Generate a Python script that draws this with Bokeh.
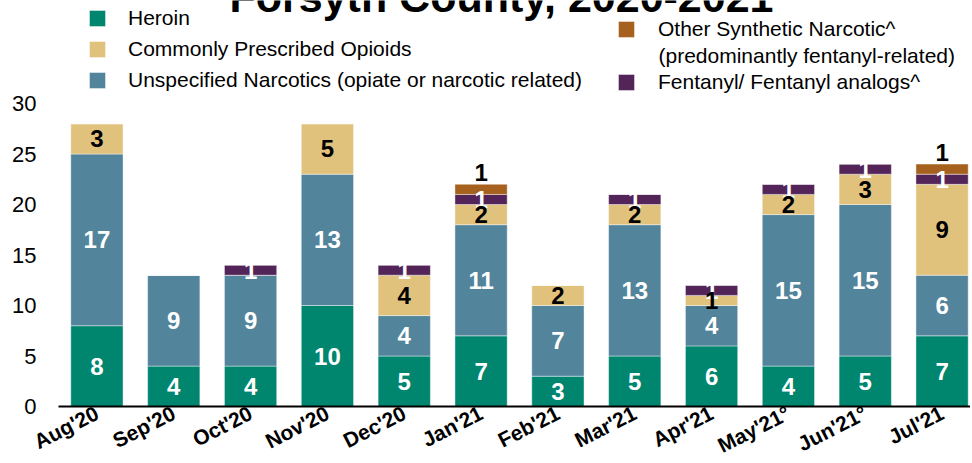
from bokeh.plotting import figure
from bokeh.models import ColumnDataSource, Legend, LegendItem, Label, FixedTicker, Range1d
from bokeh.core.properties import value
from bokeh.embed import file_html
from bokeh.resources import INLINE

# ---- data ----
months = ["Aug'20", "Sep'20", "Oct'20", "Nov'20", "Dec'20", "Jan'21",
          "Feb'21", "Mar'21", "Apr'21", "May'21°", "Jun'21°", "Jul'21"]
heroin = [8, 4, 4, 10, 5, 7, 3, 5, 6, 4, 5, 7]
unspecified = [17, 9, 9, 13, 4, 11, 7, 13, 4, 15, 15, 6]
prescribed = [3, 0, 0, 5, 4, 2, 2, 2, 1, 2, 3, 9]
fentanyl = [0, 0, 1, 0, 1, 1, 0, 1, 1, 1, 1, 1]
other_synth = [0, 0, 0, 0, 0, 1, 0, 0, 0, 0, 0, 1]
y_ticks = [0, 5, 10, 15, 20, 25, 30]

series_names = ["Heroin", "Unspecified Narcotics (opiate or narcotic related)",
                "Commonly Prescribed Opioids", "Fentanyl/ Fentanyl analogs^",
                "Other Synthetic Narcotic^"]
colors = ["#00856F", "#52849B", "#E0C27D", "#522457", "#A5611D"]
label_colors = ["white", "white", "black", "white", "black"]

FONT = "Liberation Sans"
W = 970
H = 460          # canvas height
LEFT = 58        # x pixel of the plotting area's left edge
PITCH = 76.83    # pixels per category
Y0 = 406         # canvas y of value 0
PPU = 10.1       # pixels per unit
X_START = -0.5
X_END = 11.37

xs = list(range(len(months)))
src = ColumnDataSource(dict(x=xs, heroin=heroin, unspecified=unspecified,
                            prescribed=prescribed, fentanyl=fentanyl, other=other_synth))
keys = ["heroin", "unspecified", "prescribed", "fentanyl", "other"]
data_lists = [heroin, unspecified, prescribed, fentanyl, other_synth]

p = figure(width=W, height=H, output_backend="svg", toolbar_location=None,
           x_range=Range1d(X_START - LEFT / PITCH, X_END),
           y_range=Range1d(-(H - Y0) / PPU, Y0 / PPU),
           min_border_left=0, min_border_right=0, min_border_top=0, min_border_bottom=0,
           title=None)
p.outline_line_color = None
p.xgrid.visible = False
p.ygrid.visible = False
p.background_fill_color = "white"

rs = p.vbar_stack(keys, x="x", width=0.68, color=colors, source=src,
                  line_color="white", line_width=0.7, line_alpha=0.6)

# value labels
bottoms = [0] * len(months)
white_sets = []
black_sets = []
for i, (lst, lc) in enumerate(zip(data_lists, label_colors)):
    lx, ly, lt = [], [], []
    for j, v in enumerate(lst):
        if v > 0:
            lx.append(xs[j])
            if keys[i] == "other":
                ly.append(bottoms[j] + v)
            else:
                ly.append(bottoms[j] + v / 2)
            lt.append(str(v))
    for j, v in enumerate(lst):
        bottoms[j] += v
    entry = (keys[i], dict(x=lx, y=ly, t=lt), lc)
    (white_sets if lc == "white" else black_sets).append(entry)

for key, d, lc in white_sets + black_sets:
    if key == "other":
        p.text(x="x", y="y", text="t", source=ColumnDataSource(d),
               text_color=lc, text_font=value(FONT), text_font_style="bold",
               text_font_size="24px", text_align="center", text_baseline="bottom",
               y_offset=-3)
    else:
        p.text(x="x", y="y", text="t", source=ColumnDataSource(d),
               text_color=lc, text_font=value(FONT), text_font_style="bold",
               text_font_size="24px", text_align="center", text_baseline="middle")

# axes
p.yaxis.fixed_location = X_START
p.yaxis.ticker = FixedTicker(ticks=y_ticks)
p.yaxis.axis_line_color = None
p.yaxis.major_tick_line_color = None
p.yaxis.minor_tick_line_color = None
p.yaxis.major_tick_out = 0
p.yaxis.major_tick_in = 0
p.yaxis.major_label_standoff = 22
p.yaxis.major_label_text_font = FONT
p.yaxis.major_label_text_font_size = "22px"
p.yaxis.major_label_text_color = "black"

p.xaxis.fixed_location = 0
p.xaxis.bounds = (X_START, X_END)
p.xaxis.ticker = FixedTicker(ticks=xs)
p.xaxis.major_label_overrides = {i: m for i, m in zip(xs, months)}
p.xaxis.axis_line_color = "black"
p.xaxis.axis_line_width = 2
p.xaxis.major_tick_line_color = None
p.xaxis.minor_tick_line_color = None
p.xaxis.major_tick_out = 0
p.xaxis.major_tick_in = 0
p.xaxis.major_label_standoff = 5
p.xaxis.major_label_orientation = 0.47
p.xaxis.major_label_text_font = FONT
p.xaxis.major_label_text_font_style = "bold"
p.xaxis.major_label_text_font_size = "21px"
p.xaxis.major_label_text_color = "black"

# legends (location = bottom-left corner, measured from frame bottom-left)
leg1 = Legend(items=[LegendItem(label=series_names[0], renderers=[rs[0]]),
                     LegendItem(label=series_names[2], renderers=[rs[2]]),
                     LegendItem(label=series_names[1], renderers=[rs[1]])],
              location=(87, H - 92), orientation="vertical",
              glyph_width=20, glyph_height=20, label_standoff=21, spacing=7,
              padding=0, margin=0, border_line_color=None, background_fill_alpha=0,
              label_text_font=FONT, label_text_font_size="21px", label_text_color="black")
leg2 = Legend(items=[LegendItem(label=series_names[4], renderers=[rs[4]]),
                     LegendItem(label=series_names[3], renderers=[rs[3]])],
              location=(616, H - 94), orientation="vertical",
              glyph_width=20, glyph_height=20, label_standoff=22, spacing=29,
              padding=0, margin=0, border_line_color=None, background_fill_alpha=0,
              label_text_font=FONT, label_text_font_size="21px", label_text_color="black")
p.add_layout(leg1, "center")
p.add_layout(leg2, "center")

p.add_layout(Label(x=658, y=H - 55, x_units="screen", y_units="screen",
                   text="(predominantly fentanyl-related)", text_font=FONT,
                   text_font_size="21px", text_color="black", text_baseline="middle"))

# title (mostly cut off at top of page in the reference)
p.add_layout(Label(x=501, y=H + 4, x_units="screen", y_units="screen",
                   text="Forsyth County, 2020-2021", text_font=FONT, text_font_style="bold",
                   text_font_size="43px", text_color="black", text_align="center",
                   text_baseline="alphabetic"))

open("out.html", "w").write(file_html(p, INLINE))
